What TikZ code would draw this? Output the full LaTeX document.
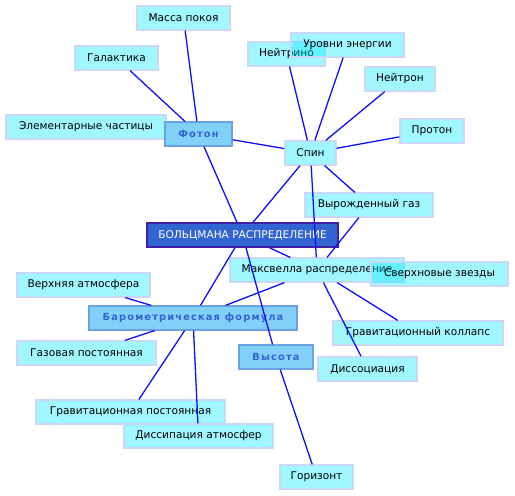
\documentclass[tikz,border=0pt]{standalone}
\usepackage{fontspec}
\setmainfont{DejaVu Sans}
\newfontfamily\boldsp[LetterSpace=12]{DejaVu Sans Bold}
\definecolor{cyanfill}{RGB}{0,236,255}
\definecolor{cyanedge}{RGB}{200,215,250}
\definecolor{midfill}{RGB}{128,208,248}
\definecolor{midedge}{RGB}{110,160,230}
\definecolor{midtext}{RGB}{50,100,210}
\definecolor{mainfill}{RGB}{50,100,210}
\definecolor{mainedge}{RGB}{64,32,160}
\definecolor{linkc}{RGB}{15,15,250}
\tikzset{
  leaf/.style={draw=cyanedge, line width=1.2pt, fill=cyanfill, fill opacity=0.37, text opacity=1,
    inner sep=0pt, minimum height=24pt, font=\fontsize{10.6}{12}\selectfont, text=black},
  mid/.style={draw=midedge, line width=1.2pt, fill=midfill, inner sep=0pt, minimum height=24pt,
    font=\boldsp\fontsize{9.8}{12}\selectfont, text=midtext},
  mainbox/.style={draw=mainedge, line width=1.2pt, fill=mainfill, inner sep=0pt, minimum height=24pt,
    font=\fontsize{10.6}{12}\selectfont, text=white},
  link/.style={draw=linkc, line width=1.3pt}
}
\begin{document}
\begin{tikzpicture}[x=1pt,y=-1pt]
\useasboundingbox (0,0) rectangle (515,496);
\fill[white] (0,0) rectangle (515,496);
% leaves
\node[leaf, minimum width=93pt] (massa) at (183.5,18) {Масса покоя};
\node[leaf, minimum width=83pt] (galak) at (116.5,58) {Галактика};
\node[leaf, minimum width=160pt] (elem) at (86,127) {Элементарные частицы};
\node[leaf, minimum width=77pt] (neitrino) at (286.5,54) {Нейтрино};
\node[leaf, minimum width=113pt] (urovni) at (347.5,45) {Уровни энергии};
\node[leaf, minimum width=70pt] (neitron) at (400,79) {Нейтрон};
\node[leaf, minimum width=64pt] (proton) at (432,131) {Протон};
\node[leaf, minimum width=51pt] (spin) at (310.5,153) {Спин};
\node[leaf, minimum width=128pt] (vyrozh) at (369,205) {Вырожденный газ};
\node[leaf, minimum width=174pt] (maxwell) at (317,270) {Максвелла распределение};
\node[leaf, minimum width=137pt] (sverh) at (439.5,274) {Сверхновые звезды};
\node[leaf, minimum width=133pt] (verkh) at (83.5,285) {Верхняя атмосфера};
\node[leaf, minimum width=139pt] (gaz) at (86.5,353) {Газовая постоянная};
\node[leaf, minimum width=170pt] (kollaps) at (418,333) {Гравитационный коллапс};
\node[leaf, minimum width=99pt] (dissoc) at (367.5,369) {Диссоциация};
\node[leaf, minimum width=189pt] (gravpost) at (130.5,412) {Гравитационная постоянная};
\node[leaf, minimum width=149pt] (dissip) at (198.5,436) {Диссипация атмосфер};
\node[leaf, minimum width=73pt] (gorizont) at (316.5,477) {Горизонт};
% mid level
\node[mid, minimum width=67pt] (foton) at (198.5,134) {Фотон};
\node[mid, minimum width=208pt] (baro) at (193,318) {Барометрическая формула};
\node[mid, minimum width=74pt] (vysota) at (276,357) {Высота};
% main
\node[mainbox, minimum width=191pt] (boltz) at (242.5,235) {БОЛЬЦМАНА РАСПРЕДЕЛЕНИЕ};
% links
\draw[link] (foton) -- (massa);
\draw[link] (foton) -- (galak);
\draw[link] (foton) -- (spin);
\draw[link] (foton) -- (boltz);
\draw[link] (spin) -- (boltz);
\draw[link] (spin) -- (neitrino);
\draw[link] (spin) -- (urovni);
\draw[link] (spin) -- (neitron);
\draw[link] (spin) -- (proton);
\draw[link] (spin) -- (maxwell);
\draw[link] (spin) -- (vyrozh);
\draw[link] (vyrozh) -- (maxwell);
\draw[link] (boltz) -- (maxwell);
\draw[link] (boltz) -- (baro);
\draw[link] (boltz) -- (vysota);
\draw[link] (maxwell) -- (baro);
\draw[link] (maxwell) -- (kollaps);
\draw[link] (maxwell) -- (dissoc);
\draw[link] (baro) -- (verkh);
\draw[link] (baro) -- (gaz);
\draw[link] (baro) -- (gravpost);
\draw[link] (baro) -- (dissip);
\draw[link] (vysota) -- (gorizont);
\end{tikzpicture}
\end{document}
